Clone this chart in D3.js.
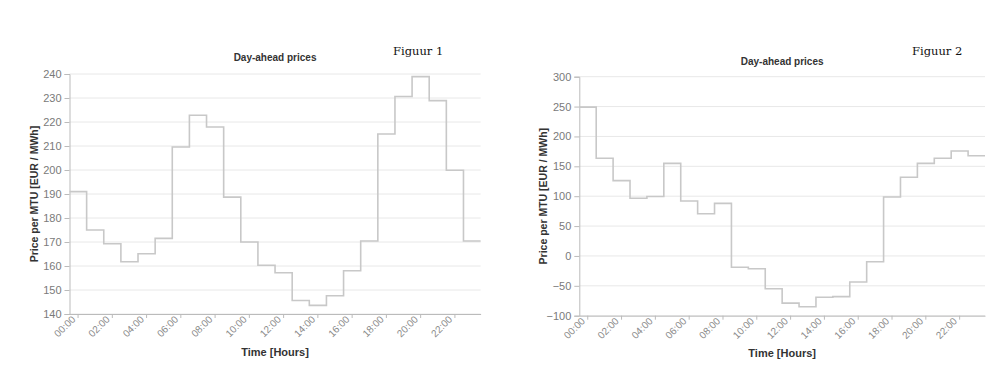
<!DOCTYPE html>
<html>
<head>
<meta charset="utf-8">
<script src="https://cdn.jsdelivr.net/npm/d3@7"></script>
<style>
  body { margin: 0; background: #fff; }
  svg { display: block; }
  text { font-family: "Liberation Sans", Arial, sans-serif; }
</style>
</head>
<body>
<div id="chart"></div>
<script>
// hours of the day (MTU = 1 hour)
const hours = d3.range(24).map(h => String(h).padStart(2, '0') + ':00');
const hourTicks = hours.filter((h, i) => i % 2 === 0);

// Figuur 1 prices, EUR / MWh
const pricesFig1 = [191, 175, 169.3, 161.8, 165.1, 171.5, 209.6, 222.8, 217.9, 188.7, 170, 160.3,
  157.2, 145.6, 143.6, 147.6, 158, 170.4, 215, 230.6, 238.9, 228.9, 199.9, 170.4];
const yTicksFig1 = [140, 150, 160, 170, 180, 190, 200, 210, 220, 230, 240];

// Figuur 2 prices, EUR / MWh
const pricesFig2 = [249, 163.4, 126, 96.5, 99.5, 155, 92, 70.7, 88, -19, -21.5, -55,
  -79, -85, -69, -68, -43.6, -9.6, 98.7, 131.6, 155, 163.4, 175.6, 167.8];
const yTicksFig2 = [-100, -50, 0, 50, 100, 150, 200, 250, 300];

const width = 1000, height = 387;

const svg = d3.select('#chart').append('svg')
  .attr('width', width)
  .attr('height', height);

svg.append('rect').attr('width', width).attr('height', height).attr('fill', '#fff');

function drawChart(cfg) {
  const g = svg.append('g');

  const x = d3.scaleBand()
    .domain(hours)
    .range([cfg.left, cfg.right])
    .padding(0);

  const y = d3.scaleLinear()
    .domain([cfg.yTicks[0], cfg.yTicks[cfg.yTicks.length - 1]])
    .range([cfg.bottom, cfg.top]);

  // gridlines
  g.append('g')
    .selectAll('line')
    .data(cfg.yTicks)
    .enter().append('line')
    .attr('x1', cfg.left)
    .attr('x2', cfg.right)
    .attr('y1', d => y(d))
    .attr('y2', d => y(d))
    .attr('stroke', '#e8e8e8')
    .attr('stroke-width', 1);

  // y axis
  const yAxis = g.append('g')
    .attr('transform', `translate(${cfg.left},0)`)
    .call(d3.axisLeft(y).tickValues(cfg.yTicks).tickSize(5).tickPadding(3));
  yAxis.select('.domain').attr('stroke', '#bbb');
  yAxis.selectAll('.tick line').attr('stroke', '#bbb');
  yAxis.selectAll('.tick text')
    .attr('fill', '#7a7a7a')
    .style('font-size', '11px')
    .style('font-family', '"Liberation Sans", Arial, sans-serif');

  // x axis, labels turned 45 degrees
  const xAxis = g.append('g')
    .attr('transform', `translate(0,${cfg.bottom})`)
    .call(d3.axisBottom(x).tickValues(hourTicks).tickSize(4).tickSizeOuter(0));
  xAxis.select('.domain').attr('stroke', '#bbb');
  xAxis.selectAll('.tick line').attr('stroke', '#bbb');
  xAxis.selectAll('.tick text')
    .attr('fill', '#8a8a8a')
    .style('font-size', '10px')
    .style('font-family', '"Liberation Sans", Arial, sans-serif')
    .attr('text-anchor', 'end')
    .attr('y', 0)
    .attr('dy', 0)
    .attr('transform', 'translate(-2,6) rotate(-45)');

  // step line: each hour holds its price until the next hour
  const pts = cfg.values.map((v, i) => [x(hours[i]), v]);
  pts.push([x(hours[23]) + x.bandwidth(), cfg.values[23]]);

  const line = d3.line()
    .x(d => d[0])
    .y(d => y(d[1]))
    .curve(d3.curveStepAfter);

  g.append('path')
    .datum(pts)
    .attr('d', line)
    .attr('fill', 'none')
    .attr('stroke', '#c8c8c8')
    .attr('stroke-width', 1.6);

  // titles
  const cx = (cfg.left + cfg.right) / 2;
  g.append('text')
    .attr('x', cx)
    .attr('y', cfg.titleY)
    .attr('text-anchor', 'middle')
    .attr('font-weight', 'bold')
    .attr('font-size', 10)
    .attr('fill', '#333')
    .text('Day-ahead prices');

  g.append('text')
    .attr('x', cx)
    .attr('y', cfg.xTitleY)
    .attr('text-anchor', 'middle')
    .attr('font-weight', 'bold')
    .attr('font-size', 11)
    .attr('fill', '#333')
    .text('Time [Hours]');

  g.append('text')
    .attr('transform', `translate(${cfg.yTitleX},${(cfg.top + cfg.bottom) / 2}) rotate(-90)`)
    .attr('text-anchor', 'middle')
    .attr('dy', '0.35em')
    .attr('font-weight', 'bold')
    .attr('font-size', 10.5)
    .attr('fill', '#333')
    .text('Price per MTU [EUR / MWh]');

  g.append('text')
    .attr('x', cfg.figX)
    .attr('y', 55)
    .style('font-family', '"DejaVu Serif", serif')
    .attr('font-size', 11.5)
    .attr('fill', '#111')
    .text(cfg.figLabel);
}

drawChart({
  values: pricesFig1, yTicks: yTicksFig1,
  left: 69.5, right: 480.6, top: 74, bottom: 314,
  titleY: 61, xTitleY: 355.5, yTitleX: 34,
  figX: 393, figLabel: 'Figuur 1'
});

drawChart({
  values: pricesFig2, yTicks: yTicksFig2,
  left: 579.3, right: 985, top: 76.7, bottom: 315.7,
  titleY: 65, xTitleY: 357, yTitleX: 543,
  figX: 912, figLabel: 'Figuur 2'
});
</script>
</body>
</html>
